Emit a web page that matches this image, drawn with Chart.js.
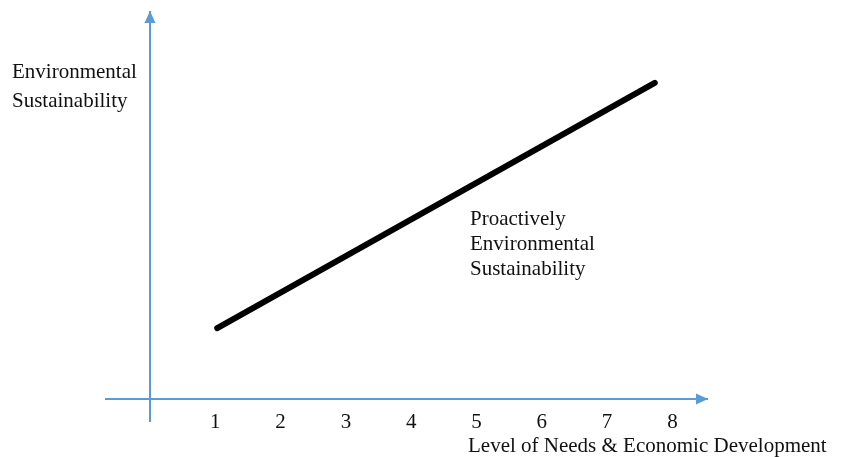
<!DOCTYPE html>
<html>
<head>
<meta charset="utf-8">
<script src="https://cdn.jsdelivr.net/npm/chart.js@4.4.1/dist/chart.umd.min.js"></script>
<style>
  html, body { margin: 0; padding: 0; background: #ffffff; }
  #wrap { width: 843px; height: 457px; position: relative; }
</style>
</head>
<body>
<div id="wrap"><canvas id="c" width="843" height="457"></canvas></div>
<script>
// ---- data ----
const xTickValues = [0, 1, 2, 3, 4, 5, 6, 7, 8];
const xTickLabels = ['', '1', '2', '3', '4', '5', '6', '7', '8'];
const lineX = [1.03, 7.73];
const lineY = [1.83, 8.17];
const yAxisTitle = ['Environmental', 'Sustainability'];
const xAxisTitle = 'Level of Needs & Economic Development';
const annotationLines = ['Proactively', 'Environmental', 'Sustainability'];

const AXIS_BLUE = '#5B9BD5';
const TEXT = '#111111';
const FONT = '21px "Liberation Serif", "Times New Roman", serif';

const points = lineX.map((x, i) => ({ x: x, y: lineY[i] }));

const decorPlugin = {
  id: 'decor',
  afterDraw(chart) {
    const ctx = chart.ctx;
    const xs = chart.scales.x, ys = chart.scales.y;
    const x0 = xs.getPixelForValue(0);
    const y0 = ys.getPixelForValue(0);
    const xEnd = xs.right;
    const yTop = ys.top;
    ctx.save();
    // arrowheads
    ctx.fillStyle = AXIS_BLUE;
    ctx.beginPath();
    ctx.moveTo(x0, yTop - 1);
    ctx.lineTo(x0 - 5.5, yTop + 11);
    ctx.lineTo(x0 + 5.5, yTop + 11);
    ctx.closePath();
    ctx.fill();
    ctx.beginPath();
    ctx.moveTo(xEnd + 1, y0);
    ctx.lineTo(xEnd - 11, y0 - 5.5);
    ctx.lineTo(xEnd - 11, y0 + 5.5);
    ctx.closePath();
    ctx.fill();
    // texts
    ctx.fillStyle = TEXT;
    ctx.font = FONT;
    ctx.textAlign = 'left';
    ctx.textBaseline = 'alphabetic';
    ctx.fillText(yAxisTitle[0], 12, 78);
    ctx.fillText(yAxisTitle[1], 12, 107);
    annotationLines.forEach((t, i) => ctx.fillText(t, 470, 225 + i * 25));
    ctx.fillText(xAxisTitle, 468, 452);
    ctx.restore();
  }
};

const gridColor = (c) => (c.tick && c.tick.value === 0) ? AXIS_BLUE : 'rgba(0,0,0,0)';

new Chart(document.getElementById('c'), {
  type: 'scatter',
  data: {
    datasets: [{
      data: points,
      showLine: true,
      borderColor: '#000000',
      borderWidth: 6,
      borderCapStyle: 'round',
      pointRadius: 0,
      pointHoverRadius: 0,
      fill: false
    }]
  },
  options: {
    responsive: false,
    animation: false,
    layout: { padding: { left: 105, right: 136, top: 12, bottom: 0 } },
    plugins: { legend: { display: false }, tooltip: { enabled: false } },
    scales: {
      x: {
        type: 'linear',
        min: 0,
        max: 8.53,
        afterBuildTicks(scale) { scale.ticks = xTickValues.map(v => ({ value: v })); },
        afterFit(scale) { scale.height = 58; },
        border: { display: true, color: AXIS_BLUE, width: 2 },
        grid: { color: gridColor, lineWidth: 2, drawTicks: true, tickLength: 23 },
        ticks: {
          padding: -12,
          color: TEXT,
          font: { family: '"Liberation Serif", "Times New Roman", serif', size: 21 },
          maxRotation: 0,
          autoSkip: false,
          callback: (v) => xTickLabels[xTickValues.indexOf(v)] || ''
        }
      },
      y: {
        type: 'linear',
        min: 0,
        max: 10,
        afterBuildTicks(scale) { scale.ticks = [{ value: 0 }]; },
        afterFit(scale) { scale.width = 45; },
        border: { display: true, color: AXIS_BLUE, width: 2 },
        grid: { color: gridColor, lineWidth: 2, drawTicks: true, tickLength: 45 },
        ticks: { display: false }
      }
    }
  },
  plugins: [decorPlugin]
});
</script>
</body>
</html>
